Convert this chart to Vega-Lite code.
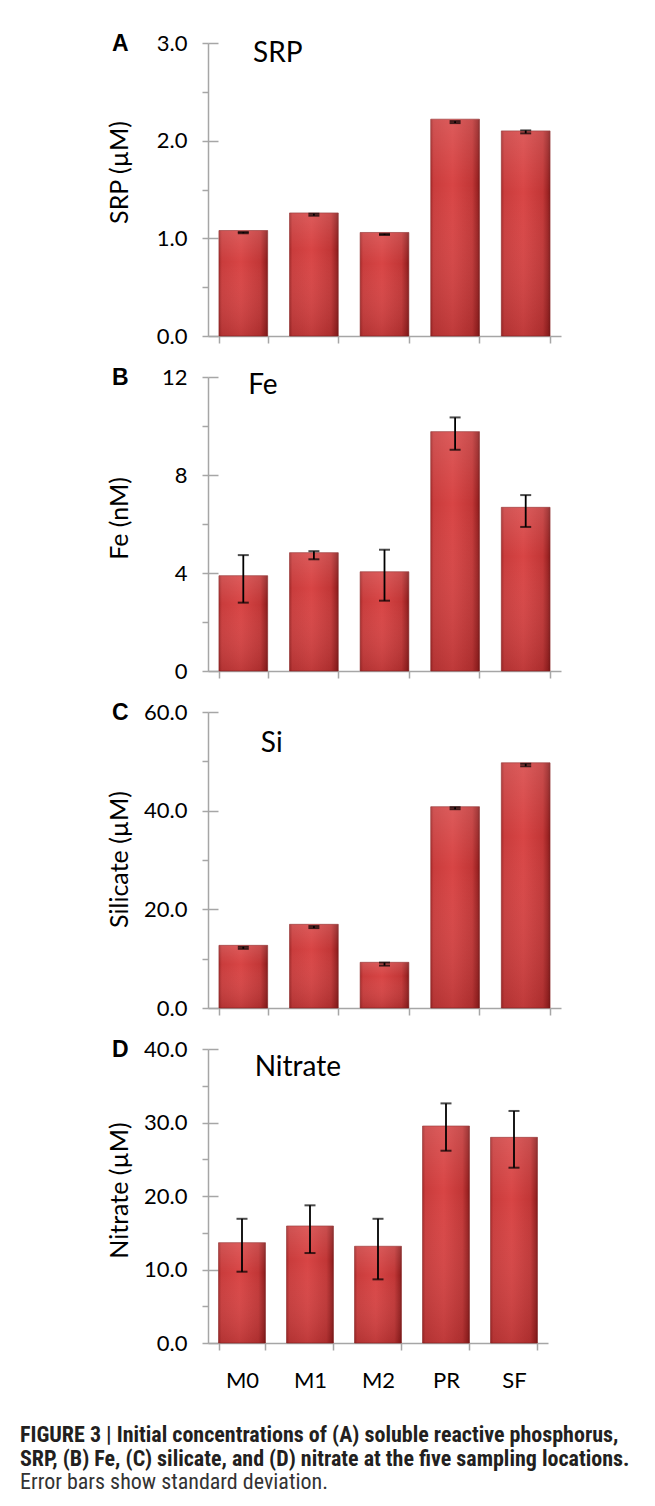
{
  "$schema": "https://vega.github.io/schema/vega-lite/v6.json",
  "background": "white",
  "padding": {"left": 20, "top": 32, "right": 10, "bottom": 10},
  "datasets": {
    "srp": [
      {"site": "M0", "value": 1.08, "lo": 1.052, "hi": 1.064},
      {"site": "M1", "value": 1.26, "lo": 1.232, "hi": 1.252},
      {"site": "M2", "value": 1.06, "lo": 1.034, "hi": 1.046},
      {"site": "PR", "value": 2.22, "lo": 2.18, "hi": 2.2},
      {"site": "SF", "value": 2.1, "lo": 2.075, "hi": 2.105}
    ],
    "fe": [
      {"site": "M0", "value": 3.89, "lo": 2.79, "hi": 4.73},
      {"site": "M1", "value": 4.83, "lo": 4.56, "hi": 4.89},
      {"site": "M2", "value": 4.05, "lo": 2.87, "hi": 4.95},
      {"site": "PR", "value": 9.77, "lo": 9.03, "hi": 10.35},
      {"site": "SF", "value": 6.68, "lo": 5.88, "hi": 7.18}
    ],
    "si": [
      {"site": "M0", "value": 12.7, "lo": 12.0, "hi": 12.4},
      {"site": "M1", "value": 16.96, "lo": 16.2, "hi": 16.6},
      {"site": "M2", "value": 9.26, "lo": 8.6, "hi": 9.2},
      {"site": "PR", "value": 40.8, "lo": 40.3, "hi": 40.7},
      {"site": "SF", "value": 49.7, "lo": 49.0, "hi": 49.5}
    ],
    "no3": [
      {"site": "M0", "value": 13.65, "lo": 9.7, "hi": 16.9},
      {"site": "M1", "value": 15.92, "lo": 12.24, "hi": 18.73},
      {"site": "M2", "value": 13.16, "lo": 8.66, "hi": 16.9},
      {"site": "PR", "value": 29.52, "lo": 26.16, "hi": 32.6},
      {"site": "SF", "value": 27.98, "lo": 23.85, "hi": 31.57}
    ]
  },
  "title": {
    "text": ["FIGURE 3 | Initial concentrations of (A) soluble reactive phosphorus,", "SRP, (B) Fe, (C) silicate, and (D) nitrate at the five sampling locations."],
    "subtitle": "Error bars show standard deviation.",
    "orient": "bottom", "anchor": "start", "frame": "bounds",
    "offset": 34, "dx": -87,
    "font": "Liberation Sans Narrow, Roboto Condensed, Roboto", "fontSize": 22, "fontWeight": "bold", "color": "#231f20", "lineHeight": 24,
    "subtitleFont": "Liberation Sans Narrow, Roboto Condensed, Roboto", "subtitleFontSize": 22, "subtitleFontWeight": "normal", "subtitleColor": "#333333", "subtitlePadding": 1
  },
  "spacing": 19,
  "vconcat": [
    {
      "width": 353, "height": 293,
      "title": {"text": "A", "anchor": "start", "frame": "bounds", "font": "Liberation Sans", "fontSize": 23, "fontWeight": "bold", "color": "black", "offset": -24, "dx": 5},
      "data": {"name": "srp"},
      "encoding": {"x": {"field": "site", "type": "nominal", "sort": ["M0", "M1", "M2", "PR", "SF"], "scale": {"paddingInner": 0.31, "paddingOuter": 0.155}, "axis": {"title": null, "labels": false, "tickBand": "extent", "tickSize": 7}}},
      "layer": [
        {"mark": {"type": "bar", "stroke": "#8c2323", "strokeWidth": 0.6, "fill": {"gradient": "linear", "x1": 0, "x2": 1, "y1": 0, "y2": 0, "stops": [{"offset": 0, "color": "#a52a2a"}, {"offset": 0.06, "color": "#c93c3c"}, {"offset": 0.45, "color": "#d84545"}, {"offset": 0.85, "color": "#c13636"}, {"offset": 0.96, "color": "#9a2222"}, {"offset": 1, "color": "#7a1a1a"}]}},
         "encoding": {"y": {"field": "value", "type": "quantitative", "scale": {"domain": [0, 3], "nice": false}, "axis": {"orient": "left", "values": [0, 0.5, 1, 1.5, 2, 2.5, 3], "labelExpr": "datum.value % 1 === 0 ? format(datum.value, '.1f') : ''", "tickSize": 6, "labelPadding": 15, "title": "SRP (µM)", "titleX": -76, "titleY": 129}}}},
        {"mark": {"type": "bar", "fill": {"gradient": "linear", "x1": 0, "x2": 0, "y1": 0, "y2": 1, "stops": [{"offset": 0, "color": "rgba(255,255,255,0.12)"}, {"offset": 0.3, "color": "rgba(255,255,255,0)"}, {"offset": 1, "color": "rgba(60,0,0,0.16)"}]}},
         "encoding": {"y": {"field": "value", "type": "quantitative", "axis": null}}},
        {"mark": {"type": "rule", "color": "black", "strokeWidth": 1.8},
         "encoding": {"y": {"field": "lo", "type": "quantitative", "axis": {"orient": "left", "values": [0, 1, 2, 3], "tickSize": -10, "labels": false, "domain": false, "title": null}}, "y2": {"field": "hi"}}},
        {"mark": {"type": "tick", "orient": "horizontal", "color": "black", "size": 11, "thickness": 2},
         "encoding": {"y": {"field": "lo", "type": "quantitative", "axis": null}}},
        {"mark": {"type": "tick", "orient": "horizontal", "color": "black", "size": 11, "thickness": 2},
         "encoding": {"y": {"field": "hi", "type": "quantitative", "axis": null}}},
        {"data": {"values": [{"site": "M0", "label": "SRP", "pos": 2.89}]},
         "mark": {"type": "text", "align": "left", "baseline": "middle", "font": "Lato", "fontSize": 28, "color": "black"},
         "encoding": {"x": {"field": "site", "type": "nominal", "sort": ["M0", "M1", "M2", "PR", "SF"], "bandPosition": 0.7, "axis": {"title": null}}, "y": {"field": "pos", "type": "quantitative", "axis": null}, "text": {"field": "label"}}}
      ],
      "resolve": {"axis": {"y": "independent"}}
    },
    {
      "width": 353, "height": 294,
      "title": {"text": "B", "anchor": "start", "frame": "bounds", "font": "Liberation Sans", "fontSize": 23, "fontWeight": "bold", "color": "black", "offset": -24, "dx": 5},
      "data": {"name": "fe"},
      "encoding": {"x": {"field": "site", "type": "nominal", "sort": ["M0", "M1", "M2", "PR", "SF"], "scale": {"paddingInner": 0.31, "paddingOuter": 0.155}, "axis": {"title": null, "labels": false, "tickBand": "extent", "tickSize": 7}}},
      "layer": [
        {"mark": {"type": "bar", "stroke": "#8c2323", "strokeWidth": 0.6, "fill": {"gradient": "linear", "x1": 0, "x2": 1, "y1": 0, "y2": 0, "stops": [{"offset": 0, "color": "#a52a2a"}, {"offset": 0.06, "color": "#c93c3c"}, {"offset": 0.45, "color": "#d84545"}, {"offset": 0.85, "color": "#c13636"}, {"offset": 0.96, "color": "#9a2222"}, {"offset": 1, "color": "#7a1a1a"}]}},
         "encoding": {"y": {"field": "value", "type": "quantitative", "scale": {"domain": [0, 12], "nice": false}, "axis": {"orient": "left", "values": [0, 2, 4, 6, 8, 10, 12], "labelExpr": "datum.value % 4 === 0 ? format(datum.value, 'd') : ''", "tickSize": 6, "labelPadding": 15, "title": "Fe (nM)", "titleX": -76, "titleY": 141}}}},
        {"mark": {"type": "bar", "fill": {"gradient": "linear", "x1": 0, "x2": 0, "y1": 0, "y2": 1, "stops": [{"offset": 0, "color": "rgba(255,255,255,0.12)"}, {"offset": 0.3, "color": "rgba(255,255,255,0)"}, {"offset": 1, "color": "rgba(60,0,0,0.16)"}]}},
         "encoding": {"y": {"field": "value", "type": "quantitative", "axis": null}}},
        {"mark": {"type": "rule", "color": "black", "strokeWidth": 1.8},
         "encoding": {"y": {"field": "lo", "type": "quantitative", "axis": {"orient": "left", "values": [0, 4, 8, 12], "tickSize": -10, "labels": false, "domain": false, "title": null}}, "y2": {"field": "hi"}}},
        {"mark": {"type": "tick", "orient": "horizontal", "color": "black", "size": 11, "thickness": 2},
         "encoding": {"y": {"field": "lo", "type": "quantitative", "axis": null}}},
        {"mark": {"type": "tick", "orient": "horizontal", "color": "black", "size": 11, "thickness": 2},
         "encoding": {"y": {"field": "hi", "type": "quantitative", "axis": null}}},
        {"data": {"values": [{"site": "M0", "label": "Fe", "pos": 11.63}]},
         "mark": {"type": "text", "align": "left", "baseline": "middle", "font": "Lato", "fontSize": 28, "color": "black"},
         "encoding": {"x": {"field": "site", "type": "nominal", "sort": ["M0", "M1", "M2", "PR", "SF"], "bandPosition": 0.6, "axis": {"title": null}}, "y": {"field": "pos", "type": "quantitative", "axis": null}, "text": {"field": "label"}}}
      ],
      "resolve": {"axis": {"y": "independent"}}
    },
    {
      "width": 353, "height": 296,
      "title": {"text": "C", "anchor": "start", "frame": "bounds", "font": "Liberation Sans", "fontSize": 23, "fontWeight": "bold", "color": "black", "offset": -24, "dx": 5},
      "data": {"name": "si"},
      "encoding": {"x": {"field": "site", "type": "nominal", "sort": ["M0", "M1", "M2", "PR", "SF"], "scale": {"paddingInner": 0.31, "paddingOuter": 0.155}, "axis": {"title": null, "labels": false, "tickBand": "extent", "tickSize": 7}}},
      "layer": [
        {"mark": {"type": "bar", "stroke": "#8c2323", "strokeWidth": 0.6, "fill": {"gradient": "linear", "x1": 0, "x2": 1, "y1": 0, "y2": 0, "stops": [{"offset": 0, "color": "#a52a2a"}, {"offset": 0.06, "color": "#c93c3c"}, {"offset": 0.45, "color": "#d84545"}, {"offset": 0.85, "color": "#c13636"}, {"offset": 0.96, "color": "#9a2222"}, {"offset": 1, "color": "#7a1a1a"}]}},
         "encoding": {"y": {"field": "value", "type": "quantitative", "scale": {"domain": [0, 60], "nice": false}, "axis": {"orient": "left", "values": [0, 10, 20, 30, 40, 50, 60], "labelExpr": "datum.value % 20 === 0 ? format(datum.value, '.1f') : ''", "tickSize": 6, "labelPadding": 15, "title": "Silicate (µM)", "titleX": -76, "titleY": 147}}}},
        {"mark": {"type": "bar", "fill": {"gradient": "linear", "x1": 0, "x2": 0, "y1": 0, "y2": 1, "stops": [{"offset": 0, "color": "rgba(255,255,255,0.12)"}, {"offset": 0.3, "color": "rgba(255,255,255,0)"}, {"offset": 1, "color": "rgba(60,0,0,0.16)"}]}},
         "encoding": {"y": {"field": "value", "type": "quantitative", "axis": null}}},
        {"mark": {"type": "rule", "color": "black", "strokeWidth": 1.8},
         "encoding": {"y": {"field": "lo", "type": "quantitative", "axis": {"orient": "left", "values": [0, 20, 40, 60], "tickSize": -10, "labels": false, "domain": false, "title": null}}, "y2": {"field": "hi"}}},
        {"mark": {"type": "tick", "orient": "horizontal", "color": "black", "size": 11, "thickness": 2},
         "encoding": {"y": {"field": "lo", "type": "quantitative", "axis": null}}},
        {"mark": {"type": "tick", "orient": "horizontal", "color": "black", "size": 11, "thickness": 2},
         "encoding": {"y": {"field": "hi", "type": "quantitative", "axis": null}}},
        {"data": {"values": [{"site": "M0", "label": "Si", "pos": 53.5}]},
         "mark": {"type": "text", "align": "left", "baseline": "middle", "font": "Lato", "fontSize": 28, "color": "black"},
         "encoding": {"x": {"field": "site", "type": "nominal", "sort": ["M0", "M1", "M2", "PR", "SF"], "bandPosition": 0.86, "axis": {"title": null}}, "y": {"field": "pos", "type": "quantitative", "axis": null}, "text": {"field": "label"}}}
      ],
      "resolve": {"axis": {"y": "independent"}}
    },
    {
      "width": 340, "height": 294,
      "title": {"text": "D", "anchor": "start", "frame": "bounds", "font": "Liberation Sans", "fontSize": 23, "fontWeight": "bold", "color": "black", "offset": -24, "dx": 5},
      "data": {"name": "no3"},
      "encoding": {"x": {"field": "site", "type": "nominal", "sort": ["M0", "M1", "M2", "PR", "SF"], "scale": {"paddingInner": 0.31, "paddingOuter": 0.155}, "axis": {"title": null, "labels": true, "labelAngle": 0, "labelPadding": 20, "tickBand": "extent", "tickSize": 7}}},
      "layer": [
        {"mark": {"type": "bar", "stroke": "#8c2323", "strokeWidth": 0.6, "fill": {"gradient": "linear", "x1": 0, "x2": 1, "y1": 0, "y2": 0, "stops": [{"offset": 0, "color": "#a52a2a"}, {"offset": 0.06, "color": "#c93c3c"}, {"offset": 0.45, "color": "#d84545"}, {"offset": 0.85, "color": "#c13636"}, {"offset": 0.96, "color": "#9a2222"}, {"offset": 1, "color": "#7a1a1a"}]}},
         "encoding": {"y": {"field": "value", "type": "quantitative", "scale": {"domain": [0, 40], "nice": false}, "axis": {"orient": "left", "values": [0, 5, 10, 15, 20, 25, 30, 35, 40], "labelExpr": "datum.value % 10 === 0 ? format(datum.value, '.1f') : ''", "tickSize": 6, "labelPadding": 15, "title": "Nitrate (µM)", "titleX": -76, "titleY": 141}}}},
        {"mark": {"type": "bar", "fill": {"gradient": "linear", "x1": 0, "x2": 0, "y1": 0, "y2": 1, "stops": [{"offset": 0, "color": "rgba(255,255,255,0.12)"}, {"offset": 0.3, "color": "rgba(255,255,255,0)"}, {"offset": 1, "color": "rgba(60,0,0,0.16)"}]}},
         "encoding": {"y": {"field": "value", "type": "quantitative", "axis": null}}},
        {"mark": {"type": "rule", "color": "black", "strokeWidth": 1.8},
         "encoding": {"y": {"field": "lo", "type": "quantitative", "axis": {"orient": "left", "values": [0, 10, 20, 30, 40], "tickSize": -10, "labels": false, "domain": false, "title": null}}, "y2": {"field": "hi"}}},
        {"mark": {"type": "tick", "orient": "horizontal", "color": "black", "size": 11, "thickness": 2},
         "encoding": {"y": {"field": "lo", "type": "quantitative", "axis": null}}},
        {"mark": {"type": "tick", "orient": "horizontal", "color": "black", "size": 11, "thickness": 2},
         "encoding": {"y": {"field": "hi", "type": "quantitative", "axis": null}}},
        {"data": {"values": [{"site": "M0", "label": "Nitrate", "pos": 37.4}]},
         "mark": {"type": "text", "align": "left", "baseline": "middle", "font": "Lato", "fontSize": 28, "color": "black"},
         "encoding": {"x": {"field": "site", "type": "nominal", "sort": ["M0", "M1", "M2", "PR", "SF"], "bandPosition": 0.77, "axis": {"title": null}}, "y": {"field": "pos", "type": "quantitative", "axis": null}, "text": {"field": "label"}}}
      ],
      "resolve": {"axis": {"y": "independent"}}
    }
  ],
  "config": {
    "view": {"stroke": null},
    "axis": {"domainColor": "#a6a6a6", "tickColor": "#a6a6a6", "domainWidth": 1.5, "tickWidth": 1.5, "labelFont": "Lato", "labelFontSize": 22, "labelColor": "black", "titleFont": "Lato", "titleFontSize": 25, "titleFontWeight": "normal", "titleColor": "black", "grid": false, "labelOverlap": false}
  }
}
